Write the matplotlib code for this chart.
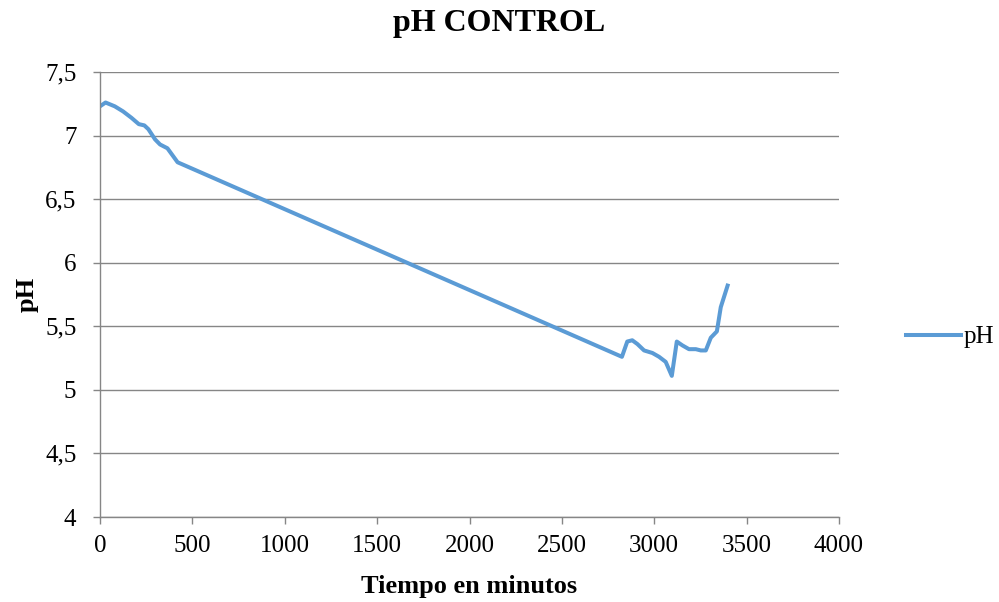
import matplotlib
matplotlib.use("Agg")
import matplotlib.pyplot as plt
from matplotlib.ticker import FuncFormatter

minutes = [0, 30, 80, 125, 170, 210, 240, 262, 298, 325, 365, 420,
           2825, 2854, 2881, 2909, 2945, 2990, 3026, 3062, 3095, 3122,
           3152, 3188, 3225, 3252, 3279, 3306, 3339, 3360, 3397]
ph = [7.23, 7.26, 7.23, 7.19, 7.14, 7.09, 7.08, 7.05, 6.97, 6.93, 6.90, 6.79,
      5.26, 5.38, 5.39, 5.36, 5.31, 5.29, 5.26, 5.22, 5.11, 5.38,
      5.35, 5.32, 5.32, 5.31, 5.31, 5.41, 5.46, 5.65, 5.82]

x_ticks = [0, 500, 1000, 1500, 2000, 2500, 3000, 3500, 4000]
y_ticks = [4, 4.5, 5, 5.5, 6, 6.5, 7, 7.5]

plt.rcParams['font.family'] = ['Liberation Serif', 'DejaVu Serif']

fig = plt.figure(figsize=(9.99, 6.02), dpi=100)
ax = fig.add_axes([100/999, 1 - 517/602, 739/999, 445/602])

ax.plot(minutes, ph, color='#5B9BD5', linewidth=2.9, label='pH', solid_joinstyle='round')

ax.set_xlim(0, 4000)
ax.set_ylim(4, 7.5)
ax.set_xticks(x_ticks)
ax.set_yticks(y_ticks)
ax.yaxis.set_major_formatter(FuncFormatter(lambda v, p: (f"{v:g}").replace('.', ',')))
ax.grid(axis='y', color='#868686', linewidth=1)
ax.set_axisbelow(True)
for s in ['top', 'right']:
    ax.spines[s].set_visible(False)
for s in ['left', 'bottom']:
    ax.spines[s].set_color('#868686')
    ax.spines[s].set_linewidth(1)
ax.tick_params(axis='both', colors='#868686', labelcolor='black', labelsize=18,
               length=5, width=1, direction='out')
ax.tick_params(axis='y', pad=12)
ax.tick_params(axis='x', pad=8)

fig.text(0.5, 1 - 24/602, 'pH CONTROL', fontsize=23, fontweight='bold',
         ha='center', va='center')
ax.set_xlabel('Tiempo en minutos', fontsize=19, fontweight='bold')
ax.set_ylabel('pH', fontsize=19, fontweight='bold')
ax.xaxis.set_label_coords(0.5, (517 - 586) / 445)
ax.xaxis.label.set_va('center')
ax.yaxis.set_label_coords((27 - 100) / 739, 0.5)
ax.yaxis.label.set_va('center')

leg = ax.legend(loc='center left', bbox_to_anchor=((906 - 100) / 739, (517 - 337) / 445),
                frameon=False, fontsize=18, handlelength=2.2, handletextpad=0.1,
                borderpad=0, borderaxespad=0)

fig.savefig('out.png', dpi=100)
